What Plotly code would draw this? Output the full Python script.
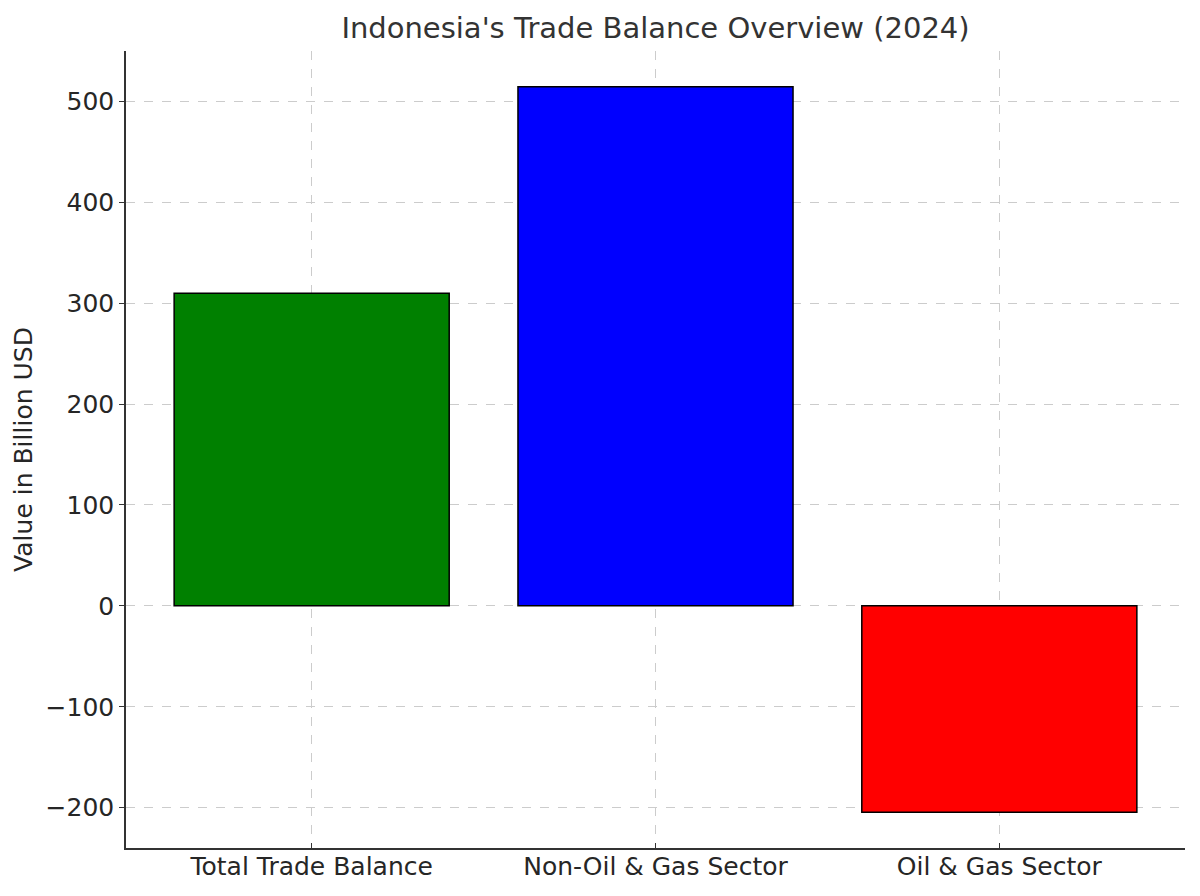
import plotly.graph_objects as go

categories = ["Total Trade Balance", "Non-Oil & Gas Sector", "Oil & Gas Sector"]
values = [310.0, 514.5, -204.5]
colors = ["green", "blue", "red"]
tick_vals = [-200, -100, 0, 100, 200, 300, 400, 500]

fig = go.Figure(go.Bar(
    x=categories, y=values, width=0.8,
    marker=dict(color=colors, line=dict(color="black", width=1.5)),
))

grid = dict(showgrid=True, gridcolor="#cccccc", griddash="dash", gridwidth=1)
fig.update_layout(
    width=1184, height=880,
    margin=dict(l=118, r=7, t=43, b=40),
    plot_bgcolor="white", paper_bgcolor="white",
    font=dict(family="DejaVu Sans", size=25, color="#262626"),
    title=dict(text="Indonesia's Trade Balance Overview (2024)", x=0.5, xanchor="center",
               xref="paper", y=0.977, yanchor="middle",
               font=dict(size=29, color="#333333")),
    showlegend=False,
)
fig.update_xaxes(range=[-0.54, 2.54], showline=True, linecolor="#333333", linewidth=1.5,
                 automargin=False, ticklabelstandoff=-5,
                 ticks="inside", ticklen=5, tickcolor="#333333", mirror=False, **grid)
fig.update_yaxes(range=[-240, 550], tickvals=tick_vals,
                 ticktext=[str(v).replace("-", "\u2212") for v in tick_vals],
                 title=dict(text="Value in Billion USD", font=dict(size=25), standoff=6),
                 showline=True, linecolor="#333333", linewidth=1.5, zeroline=False,
                 ticks="outside", ticklen=5, tickcolor="#333333", **grid)

fig.write_html("out.html")
